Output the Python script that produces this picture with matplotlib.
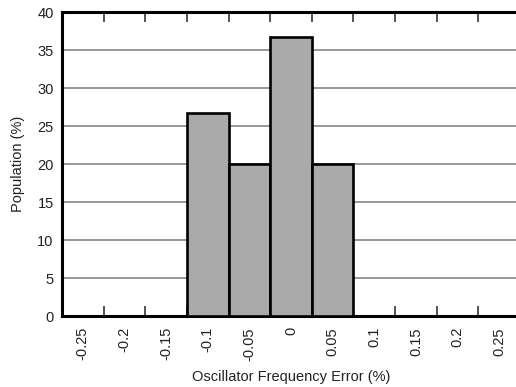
import matplotlib.pyplot as plt
import numpy as np

plt.rcParams['font.family'] = ['Liberation Sans', 'DejaVu Sans']

# frequency error bins (%) and population in each bin (%)
bins = ['-0.25', '-0.2', '-0.15', '-0.1', '-0.05', '0', '0.05', '0.1', '0.15', '0.2', '0.25']
population = [0, 0, 0, 26.7, 20, 36.7, 20, 0, 0, 0, 0]

fig = plt.figure(figsize=(5.16, 3.87), dpi=100)
ax = fig.add_axes([62/516, 71/387, 458/516, 304/387])

x = np.arange(len(bins))
ax.bar(x, population, width=1.0, color='#aaaaaa', edgecolor='black', linewidth=1.9, zorder=3)

ax.set_xlim(-0.5, len(bins) - 0.5)
ax.set_ylim(0, 40)
ax.set_yticks(np.arange(0, 41, 5))
ax.yaxis.grid(True, color='#888888', linewidth=1.2, zorder=0)
ax.tick_params(axis='y', length=0, labelsize=10.5, pad=6, colors='#222222')

# marks at bin edges, labels at bin centres
ax.set_xticks(x[:-1] + 0.5)
ax.set_xticklabels([])
ax.set_xticks(x, minor=True)
ax.set_xticklabels(bins, minor=True, rotation=90)
ax.tick_params(axis='x', which='major', direction='in', length=7, width=1.2,
               top=True, color='#333333')
ax.tick_params(axis='x', which='minor', length=0, pad=8, labelsize=10.5, colors='#222222')

for s in ax.spines.values():
    s.set_linewidth(2.2)

ax.set_xlabel('Oscillator Frequency Error (%)', fontsize=10.5, color='#222222', labelpad=7)
ax.set_ylabel('Population (%)', fontsize=10.5, color='#222222', labelpad=9)

fig.savefig('out.png', dpi=100)
